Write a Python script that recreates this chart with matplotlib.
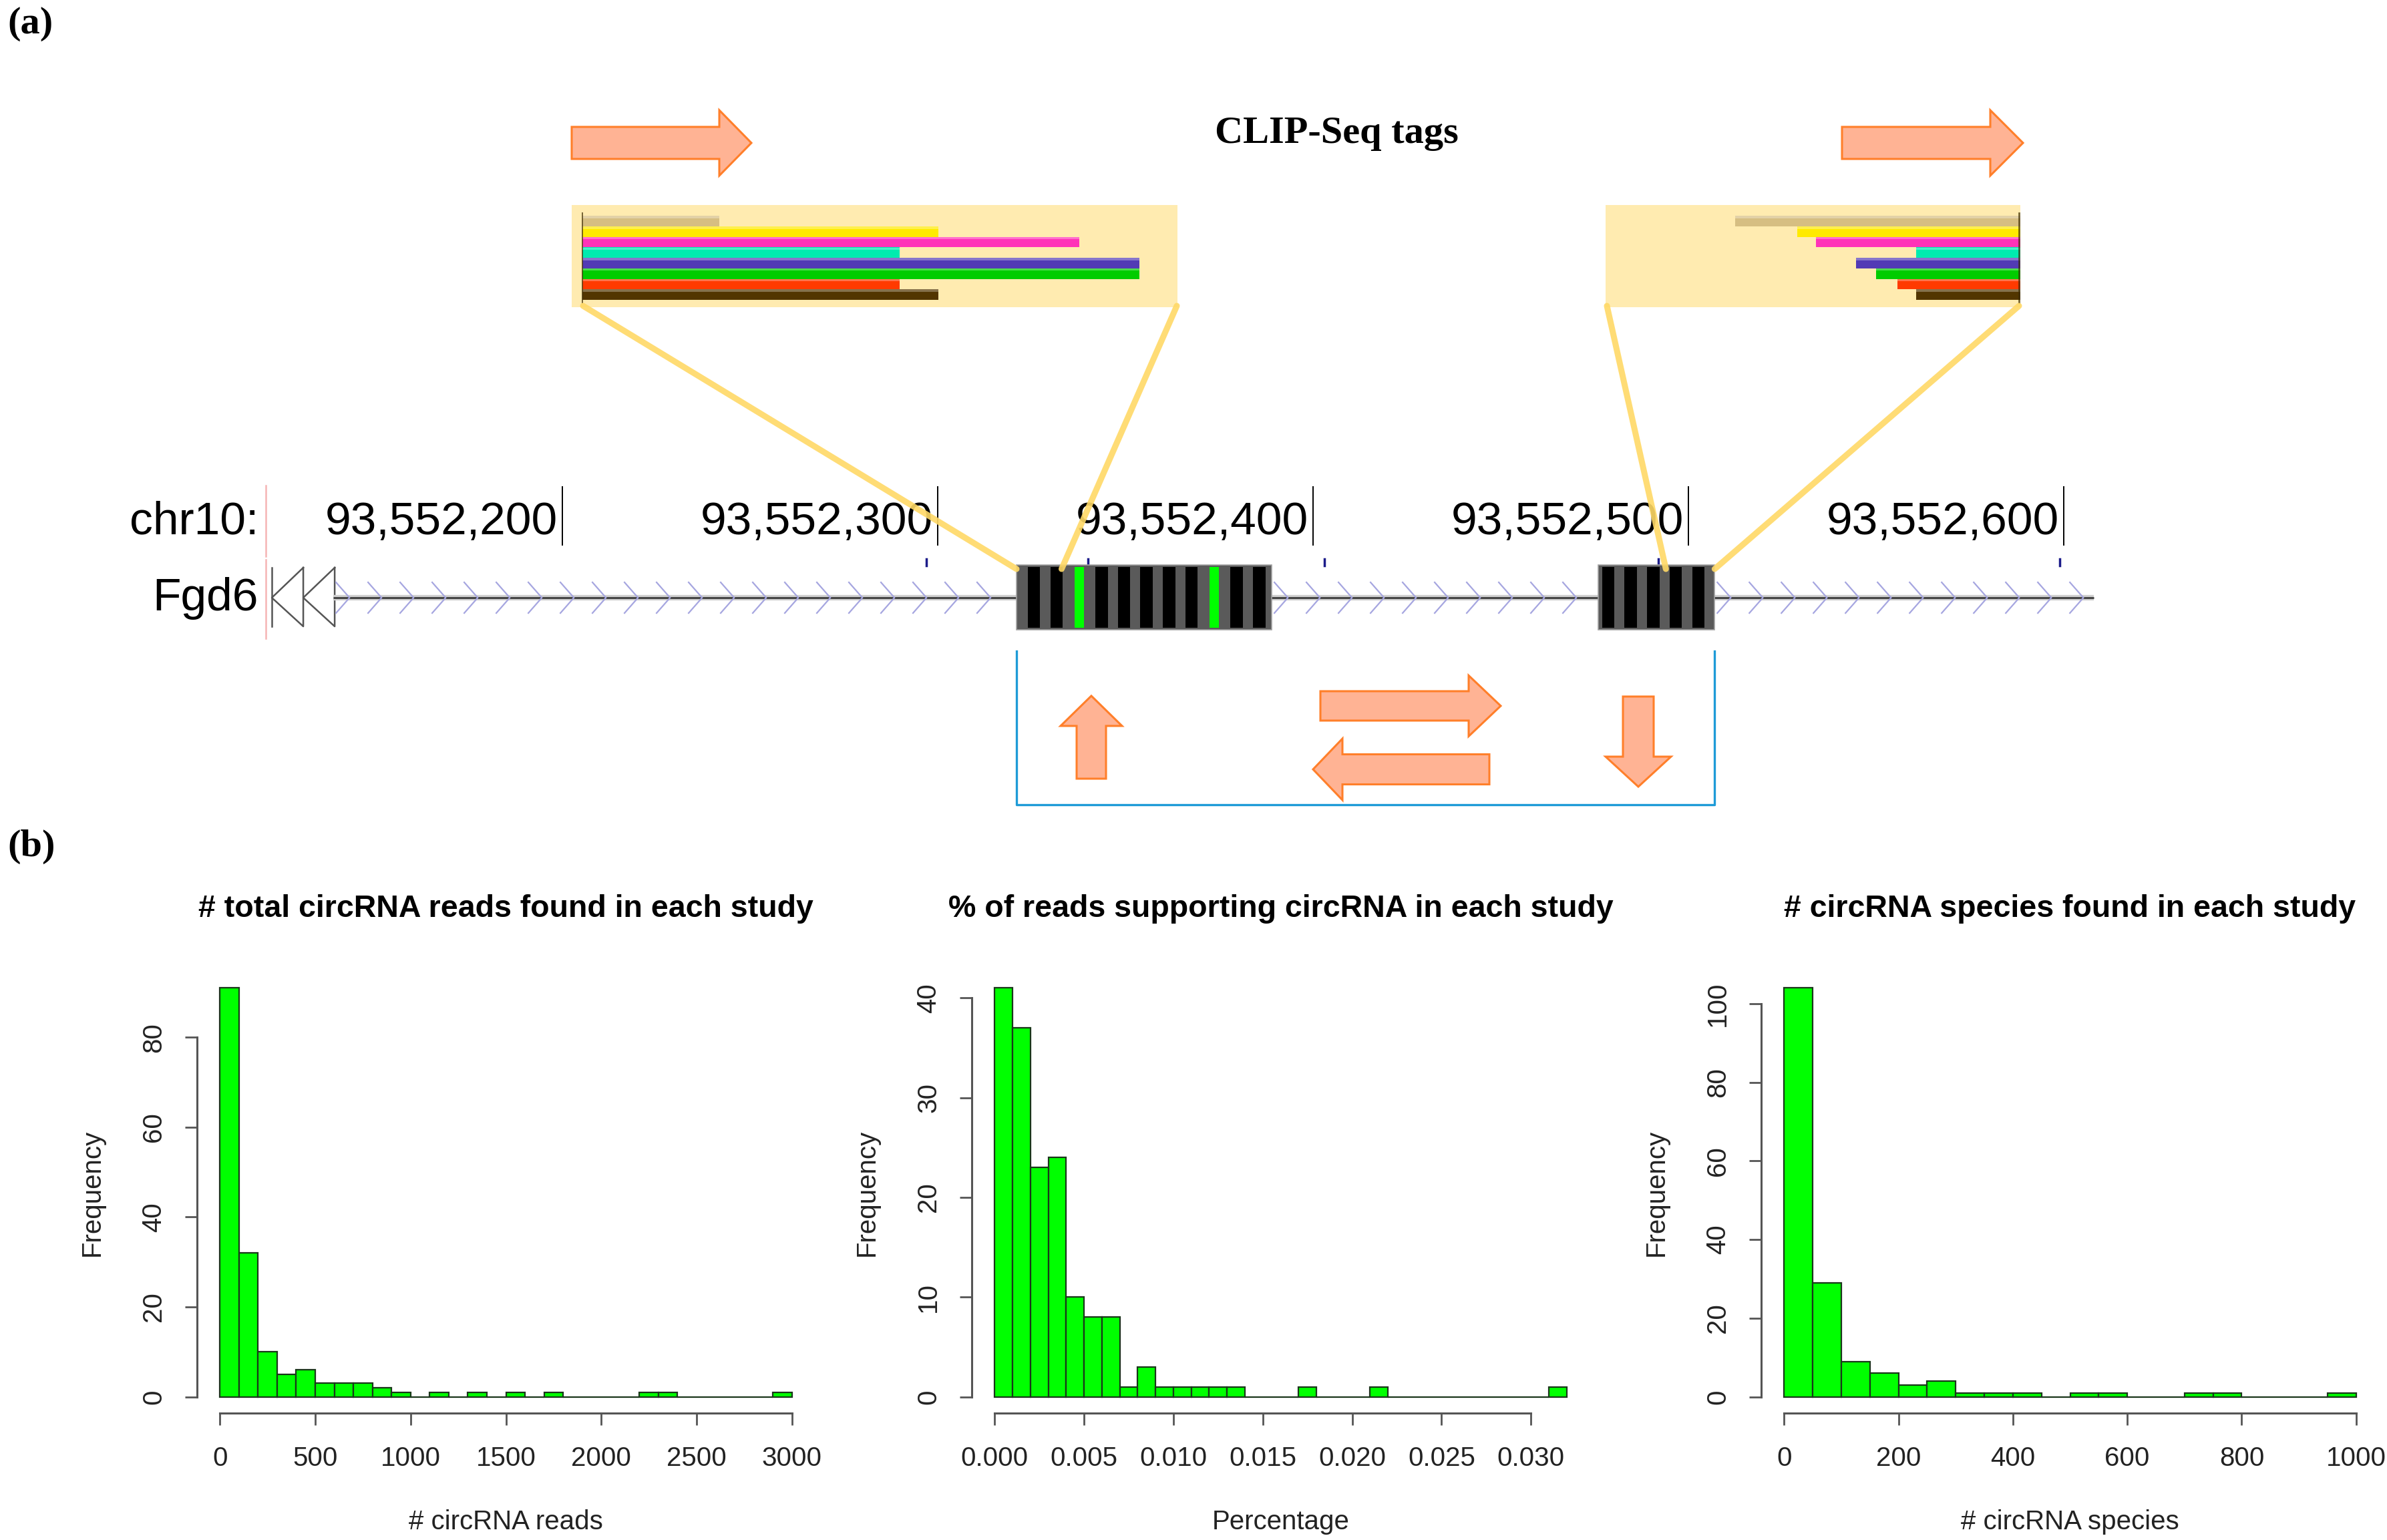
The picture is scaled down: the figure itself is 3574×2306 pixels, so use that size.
import numpy as np
import matplotlib.pyplot as plt
from matplotlib.patches import Rectangle, FancyArrow, ConnectionPatch
from matplotlib.ticker import FormatStrFormatter

plt.rcParams['font.family'] = ['Liberation Sans', 'DejaVu Sans']

# ---------------- panel (a) data ----------------
ruler_pos = [93552200, 93552300, 93552400, 93552500, 93552600]
ruler_labels = ['93,552,200', '93,552,300', '93,552,400', '93,552,500', '93,552,600']
exon_start = [93552321, 93552476]
exon_end = [93552389, 93552507]
dark_codons = [93552324, 93552330, 93552342, 93552348, 93552354, 93552360, 93552366,
               93552378, 93552384, 93552477, 93552483, 93552489, 93552495, 93552501]
green_codons = [93552336, 93552372]
gene_start = 93552139
gene_end = 93552608
view_start = 93552121
cons_marks = [93552297, 93552340, 93552403, 93552492, 93552599]
clip_left = (93552321, 93552333)
clip_right = (93552494, 93552507)

tag_colors = ['#D6BE82', '#FFEA00', '#FF33B8', '#00EBAF', '#523AB5', '#00CC00', '#FF3A00', '#523500']
tags_left = [0.226, 0.588, 0.820, 0.524, 0.920, 0.920, 0.524, 0.588]
tags_right = [0.688, 0.538, 0.493, 0.251, 0.396, 0.348, 0.296, 0.251]

# ---------------- panel (b) data ----------------
reads_counts = [91, 32, 10, 5, 6, 3, 3, 3, 2, 1, 0, 1, 0, 1, 0, 1, 0, 1, 0, 0,
                0, 0, 1, 1, 0, 0, 0, 0, 0, 1]
reads_binw = 100
pct_counts = [41, 37, 23, 24, 10, 8, 8, 1, 3, 1, 1, 1, 1, 1, 0, 0, 0, 1, 0, 0,
              0, 1, 0, 0, 0, 0, 0, 0, 0, 0, 0, 1]
pct_binw = 0.001
species_counts = [104, 29, 9, 6, 3, 4, 1, 1, 1, 0, 1, 1, 0, 0, 1, 1, 0, 0, 0, 1]
species_binw = 50

W, H = 3574, 2306
fig = plt.figure(figsize=(W / 100, H / 100), dpi=100)

# pixel overlay
ax_px = fig.add_axes([0, 0, 1, 1])
ax_px.set_xlim(0, W)
ax_px.set_ylim(H, 0)
ax_px.axis('off')

# genome track axes (x in bp), same pixel rows
PX0, PXBP = 842, 5.62
ax_g = fig.add_axes([0, 0, 1, 1])
ax_g.set_xlim(ruler_pos[0] - PX0 / PXBP, ruler_pos[0] + (W - PX0) / PXBP)
ax_g.set_ylim(H, 0)
ax_g.axis('off')

ax_px.text(11, 36, '(a)', family='Liberation Serif', fontweight='bold', fontsize=42,
           ha='left', va='center')
ax_px.text(11, 1268, '(b)', family='Liberation Serif', fontweight='bold', fontsize=42,
           ha='left', va='center')
ax_px.text(2001, 200, 'CLIP-Seq tags', family='Liberation Serif', fontweight='bold',
           fontsize=42, ha='center', va='center')

# orange arrows
arrow_specs = [(856, 214, 269, 0, 48, 98, 48), (2758, 214, 271, 0, 48, 98, 49),
               (1634, 1166, 0, -124, 44, 92, 45), (1977, 1057, 270, 0, 44, 91, 48),
               (2230, 1152, -264, 0, 45, 92, 44), (2453, 1043, 0, 135, 46, 98, 45)]
for x, y, dx, dy, w, hw, hl in arrow_specs:
    ax_px.add_patch(FancyArrow(x, y, dx, dy, width=w, head_width=hw, head_length=hl,
                               length_includes_head=True, fc='#FFB394', ec='#FF7F2A', lw=2.2))

# CLIP tag boxes
rows = np.arange(len(tag_colors))
for (x0, x1), tags, right in [((856, 1763), tags_left, False), ((2404, 3025), tags_right, True)]:
    ax_t = fig.add_axes([x0 / W, 1 - 460 / H, (x1 - x0) / W, 153 / H])
    ax_t.set_facecolor('#FFEBB0')
    ax_t.set_xticks([])
    ax_t.set_yticks([])
    for s in ax_t.spines.values():
        s.set_visible(False)
    ax_t.set_xlim(0, 1)
    ax_t.set_ylim(8.2, -1.53)
    tags = np.array(tags)
    lefts = 1 - tags if right else np.full(len(tags), 0.0176)
    ax_t.barh(rows, tags, left=lefts, height=1.0, color=tag_colors)
    ax_t.barh(rows - 0.38, tags, left=lefts, height=0.22, color='white', alpha=0.3)
    xo = 0.996 if right else 0.0176
    ax_t.plot([xo, xo], [-0.75, 7.75], color='#3a2a00', lw=2 if right else 1.4, alpha=0.7)

# connection lines from boxes to exons
for xy_box, g in [((873, 458), clip_left[0]), ((1762, 458), clip_left[1]),
                  ((2406, 458), clip_right[0]), ((3023, 458), clip_right[1])]:
    con = ConnectionPatch(xyA=xy_box, coordsA=ax_px.transData, xyB=(g, 852),
                          coordsB=ax_g.transData, color='#FFD966', lw=6.5, alpha=0.9,
                          zorder=6)
    fig.add_artist(con)

# ruler
for p, lab in zip(ruler_pos, ruler_labels):
    ax_g.plot([p, p], [729, 816], color='black', lw=1.4)
    ax_g.text(p - 1.3, 782, lab, ha='right', va='center', fontsize=50)
ax_px.text(387, 782, 'chr10:', ha='right', va='center', fontsize=50)
ax_px.text(387, 896, 'Fgd6', ha='right', va='center', fontsize=50)

ax_g.plot([view_start, view_start], [727, 833], color='#F5B5B5', lw=1.8)
ax_g.plot([view_start, view_start], [838, 956], color='#F5B5B5', lw=1.8)

# gene model
tri_w = (gene_start - view_start) / 2.15
t1 = view_start + 1.6
ax_g.plot([t1, t1], [850, 938], color='#555555', lw=1.8)
for tip in [t1, t1 + tri_w]:
    ax_g.plot([tip + tri_w, tip, tip + tri_w, tip + tri_w], [850, 895, 938, 850],
              color='#555555', lw=1.8)

ax_g.plot([gene_start, gene_end], [895, 895], color='#d0d0d0', lw=6, solid_capstyle='butt')
ax_g.plot([gene_start, gene_end], [895, 895], color='#454545', lw=2.2, solid_capstyle='butt')

segments = [(gene_start, exon_start[0]), (exon_end[0], exon_start[1]), (exon_end[1], gene_end)]
for a, b in segments:
    for t in np.arange(a + 4.3, b - 0.3, 8.54):
        ax_g.plot([t - 3.6, t, t - 3.6], [872, 895, 918], color='#A6A6E0', lw=1.6)

for s, e in zip(exon_start, exon_end):
    ax_g.add_patch(Rectangle((s, 846), e - s, 97, fc='#5a5a5a', ec='#a0a0a0', lw=1.2,
                             zorder=4))
for c in dark_codons:
    ax_g.add_patch(Rectangle((c, 849), 3.3, 91, fc='black', lw=0, zorder=5))
for c in green_codons:
    ax_g.add_patch(Rectangle((c + 0.4, 849), 2.6, 91, fc='#00FF00', lw=0, zorder=5))
for m in cons_marks:
    ax_g.plot([m, m], [837, 847], color='#1c1c8a', lw=2.5)

ax_g.plot([exon_start[0], exon_start[0], exon_end[1], exon_end[1]], [975, 1205, 1205, 975],
          color='#1E9BD7', lw=2.4)

# ---------------- histograms ----------------
hist_specs = [
    (reads_counts, reads_binw, np.arange(0, 3001, 500), np.arange(0, 81, 20),
     '# total circRNA reads found in each study', '# circRNA reads', '%d'),
    (pct_counts, pct_binw, np.arange(0, 0.0301, 0.005), np.arange(0, 41, 10),
     '% of reads supporting circRNA in each study', 'Percentage', '%.3f'),
    (species_counts, species_binw, np.arange(0, 1001, 200), np.arange(0, 101, 20),
     '# circRNA species found in each study', '# circRNA species', '%d'),
]
lefts_px = [295, 1455, 2637]
ax_w, ax_top, ax_bot = 925, 1455, 2116
for (counts, bw, xt, yt, title, xlab, fmt), lx in zip(hist_specs, lefts_px):
    ax = fig.add_axes([lx / W, 1 - ax_bot / H, ax_w / W, (ax_bot - ax_top) / H])
    counts = np.array(counts)
    edges = np.arange(len(counts) + 1) * bw
    ax.bar(edges[:-1], counts, width=bw, align='edge', color='#00FF00',
           edgecolor='#1a361a', linewidth=1.6)
    span = edges[-1] - edges[0]
    ax.set_xlim(edges[0] - 0.04 * span, edges[-1] + 0.04 * span)
    ax.set_ylim(-0.04 * counts.max(), 1.04 * counts.max())
    ax.set_facecolor('none')
    for side in ['top', 'right']:
        ax.spines[side].set_visible(False)
    for side in ['left', 'bottom']:
        ax.spines[side].set_color('#555555')
        ax.spines[side].set_linewidth(2.2)
    ax.spines['left'].set_bounds(yt[0], yt[-1])
    ax.spines['bottom'].set_bounds(xt[0], xt[-1])
    ax.set_xticks(xt)
    ax.set_yticks(yt)
    ax.xaxis.set_major_formatter(FormatStrFormatter(fmt))
    ax.tick_params(length=13, width=2, color='#555555', labelsize=29, labelcolor='#222222')
    ax.tick_params(axis='x', pad=22)
    ax.tick_params(axis='y', pad=20, labelrotation=90)
    for lab in ax.get_yticklabels():
        lab.set_va('center')
    ax.text(0.5, 1 + 94 / (ax_bot - ax_top), title, transform=ax.transAxes, ha='center',
            va='center', fontsize=33.5, fontweight='bold')
    ax.set_xlabel(xlab, fontsize=29, color='#222222')
    ax.xaxis.set_label_coords(0.5, -163 / (ax_bot - ax_top))
    ax.xaxis.label.set_va('center')
    ax.set_ylabel('Frequency', fontsize=29, color='#222222')
    ax.yaxis.set_label_coords(-157 / ax_w, 0.5)
    ax.yaxis.label.set_va('center')

fig.savefig('out.png', dpi=100)
